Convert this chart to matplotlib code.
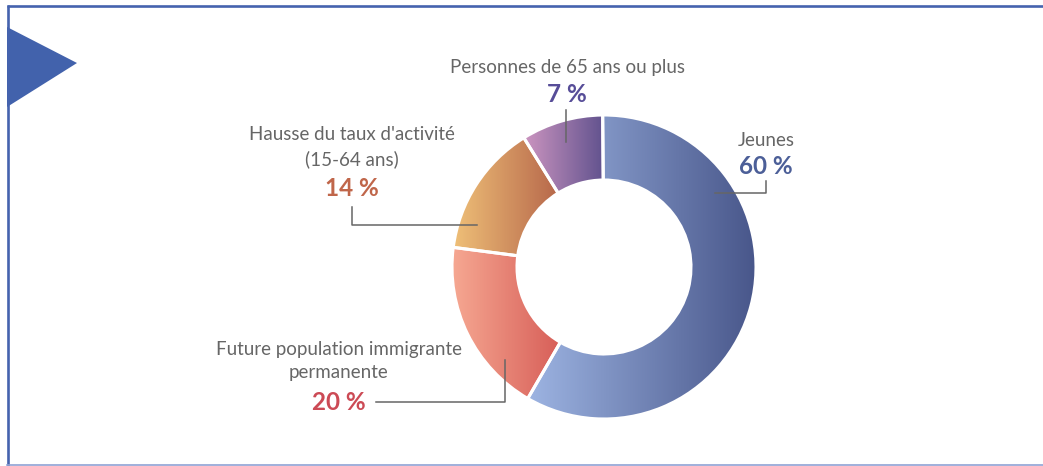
import numpy as np
import matplotlib
matplotlib.use("Agg")
import matplotlib.pyplot as plt
from matplotlib.colors import LinearSegmentedColormap
from matplotlib.patches import Polygon

# données (taille des portions, étiquettes telles qu'affichées)
categories = ["Jeunes", "Future population immigrante\npermanente",
              "Hausse du taux d'activité\n(15-64 ans)", "Personnes de 65 ans ou plus"]
values = [58.5, 18.7, 14.1, 8.7]
pct_labels = ["60 %", "20 %", "14 %", "7 %"]

grad_left = ["#9db4e2", "#f6a892", "#efc078", "#cc95c0"]
grad_right = ["#48568a", "#d75e58", "#b7684b", "#61528e"]
pct_colors = ["#4c5f98", "#cc4a55", "#c0664a", "#574d98"]
text_grey = "#666666"

W, H = 1043, 466
fig = plt.figure(figsize=(W / 100, H / 100), dpi=100)
ax = fig.add_axes([0, 0, 1, 1])


def py(y):
    # position en pixels depuis le haut -> coordonnée des données
    return H - y


cx, cy = 604, py(267)
wedges, _ = ax.pie(values, startangle=90.5, counterclock=False, radius=152,
                   center=(cx, cy), frame=True,
                   wedgeprops=dict(width=65, edgecolor="white", linewidth=2.2))

# dégradé horizontal dans chaque portion
for w, c0, c1 in zip(wedges, grad_left, grad_right):
    ext = w.get_path().get_extents(w.get_patch_transform())
    cmap = LinearSegmentedColormap.from_list("g", [c0, c1])
    grad = np.linspace(0, 1, 256).reshape(1, -1)
    im = ax.imshow(grad, cmap=cmap, aspect="auto", zorder=1,
                   extent=[ext.x0, ext.x1, ext.y0, ext.y1])
    im.set_clip_path(w)
    w.set_facecolor("none")
    w.set_zorder(2)

ax.set_xlim(0, W)
ax.set_ylim(0, H)
ax.set_aspect("equal")
ax.axis("off")

# cadre
ax.plot([7, W], [py(6), py(6)], color="#4563ae", lw=1.9, solid_capstyle="butt")
ax.plot([7.5, 7.5], [py(5), 0], color="#4563ae", lw=1.9, solid_capstyle="butt")
ax.plot([7, W], [py(465), py(465)], color="#8fa2d4", lw=1.2)
ax.add_patch(Polygon([(7, py(27)), (77, py(63)), (7, py(107))], closed=True,
                     color="#4262ac", lw=0))

font = "Lato"
lab_kw = dict(color=text_grey, fontsize=13.5, family=font, ha="center",
              va="center", linespacing=1.45)
pct_kw = dict(fontsize=17.5, family=font, fontweight="bold", ha="center", va="center")

# Jeunes
ax.text(766, py(140), categories[0], **lab_kw)
ax.text(766, py(167), pct_labels[0], color=pct_colors[0], **pct_kw)
ax.plot([715, 766, 766], [py(193), py(193), py(181)], color=text_grey, lw=1.1)

# Future population immigrante permanente
ax.text(339, py(361), categories[1], **lab_kw)
ax.text(339, py(402), pct_labels[1], color=pct_colors[1], **pct_kw)
ax.plot([376, 505, 505], [py(402), py(402), py(360)], color=text_grey, lw=1.1)

# Hausse du taux d'activité
ax.text(352, py(147), categories[2], **lab_kw)
ax.text(352, py(188), pct_labels[2], color=pct_colors[2], **pct_kw)
ax.plot([352, 352, 477], [py(207), py(225), py(225)], color=text_grey, lw=1.1)

# Personnes de 65 ans ou plus
ax.text(567, py(68), categories[3], **lab_kw)
ax.text(567, py(95), pct_labels[3], color=pct_colors[3], **pct_kw)
ax.plot([566, 566], [py(110), py(142)], color=text_grey, lw=1.1)

fig.savefig("out.png", dpi=100)
